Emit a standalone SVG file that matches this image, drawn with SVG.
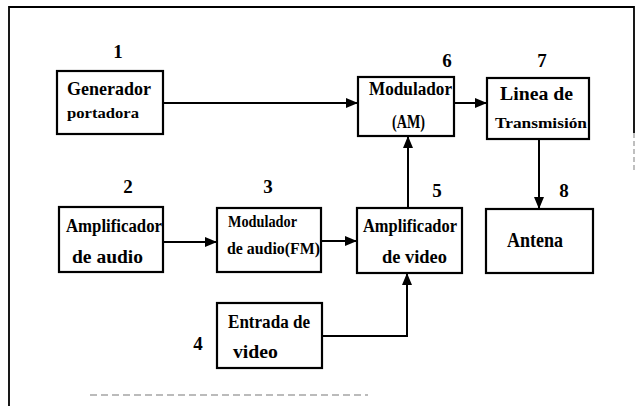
<svg xmlns="http://www.w3.org/2000/svg" width="635" height="406" viewBox="0 0 635 406">
<defs>
<marker id="ah" markerWidth="12" markerHeight="10" refX="12" refY="5" orient="auto" markerUnits="userSpaceOnUse">
<path d="M0,0 L12,5 L0,10 Z" fill="#000"/>
</marker>
</defs>
<style>
.box{fill:#fff;stroke:#000;stroke-width:2.2}
.t{font-family:"Liberation Serif","Times New Roman",serif;font-weight:bold;fill:#000}
.n{font-family:"Liberation Serif","Times New Roman",serif;font-weight:bold;font-size:19px;fill:#000;text-anchor:middle}
.c{fill:none;stroke:#000;stroke-width:2}
.frame{fill:none;stroke:#000;stroke-width:1.8}
</style>
<rect width="635" height="406" fill="#fff"/>
<g id="frame">
<path class="frame" d="M9,406 L9,7 L634,7 L634,133"/>
<path d="M634,133 L634,172" stroke="#aaa" stroke-width="1.5" stroke-dasharray="5,3" fill="none"/>
<path d="M90,395 L368,395" stroke="#bbb" stroke-width="1.8" stroke-dasharray="7,4" fill="none"/>
</g>
<g id="connectors">
<path class="c" d="M163,103 L358,103" marker-end="url(#ah)"/>
<path class="c" d="M454,103 L487,103" marker-end="url(#ah)"/>
<path class="c" d="M408,208 L408,136" marker-end="url(#ah)"/>
<path class="c" d="M539,139 L539,209" marker-end="url(#ah)"/>
<path class="c" d="M163,242 L217,242" marker-end="url(#ah)"/>
<path class="c" d="M321,241 L357,241" marker-end="url(#ah)"/>
<path class="c" d="M322,336 L407,336 L407,273" marker-end="url(#ah)"/>
</g>
<g id="n1">
<text class="n" x="118" y="58">1</text>
<rect class="box" x="57" y="71" width="106" height="63"/>
<text class="t" x="67" y="95" font-size="19" textLength="84" lengthAdjust="spacingAndGlyphs">Generador</text>
<text class="t" x="67" y="118" font-size="15" textLength="72" lengthAdjust="spacingAndGlyphs">portadora</text>
</g>
<g id="n2">
<text class="n" x="128" y="193">2</text>
<rect class="box" x="59" y="207" width="104" height="65"/>
<text class="t" x="66" y="232" font-size="18" textLength="96" lengthAdjust="spacingAndGlyphs">Amplificador</text>
<text class="t" x="72" y="263" font-size="18" textLength="71" lengthAdjust="spacingAndGlyphs">de  audio</text>
</g>
<g id="n3">
<text class="n" x="268" y="193">3</text>
<rect class="box" x="217" y="208" width="104" height="64"/>
<text class="t" x="228" y="227" font-size="16" textLength="69" lengthAdjust="spacingAndGlyphs">Modulador</text>
<text class="t" x="227" y="254" font-size="17" textLength="93" lengthAdjust="spacingAndGlyphs">de audio(FM)</text>
</g>
<g id="n4">
<text class="n" x="198" y="350">4</text>
<rect class="box" x="217" y="303" width="105" height="65"/>
<text class="t" x="228" y="328" font-size="18" textLength="82" lengthAdjust="spacingAndGlyphs">Entrada de</text>
<text class="t" x="233" y="358" font-size="18" textLength="45" lengthAdjust="spacingAndGlyphs">video</text>
</g>
<g id="n5">
<text class="n" x="437" y="197">5</text>
<rect class="box" x="357" y="208" width="105" height="65"/>
<text class="t" x="363" y="232" font-size="18" textLength="94" lengthAdjust="spacingAndGlyphs">Amplificador</text>
<text class="t" x="382" y="263" font-size="18" textLength="65" lengthAdjust="spacingAndGlyphs">de video</text>
</g>
<g id="n6">
<text class="n" x="447" y="67">6</text>
<rect class="box" x="358" y="77" width="96" height="59"/>
<text class="t" x="369" y="95" font-size="18" textLength="83" lengthAdjust="spacingAndGlyphs">Modulador</text>
<text class="t" x="392" y="128" font-size="18" textLength="33" lengthAdjust="spacingAndGlyphs">(AM)</text>
</g>
<g id="n7">
<text class="n" x="542" y="67">7</text>
<rect class="box" x="487" y="78" width="102" height="61"/>
<text class="t" x="500" y="100" font-size="18" textLength="73" lengthAdjust="spacingAndGlyphs">Linea de</text>
<text class="t" x="495" y="128" font-size="14" textLength="92" lengthAdjust="spacingAndGlyphs">Transmisión</text>
</g>
<g id="n8">
<text class="n" x="564" y="197">8</text>
<rect class="box" x="486" y="209" width="107" height="64"/>
<text class="t" x="507" y="247" font-size="22" textLength="56" lengthAdjust="spacingAndGlyphs">Antena</text>
</g>
</svg>
